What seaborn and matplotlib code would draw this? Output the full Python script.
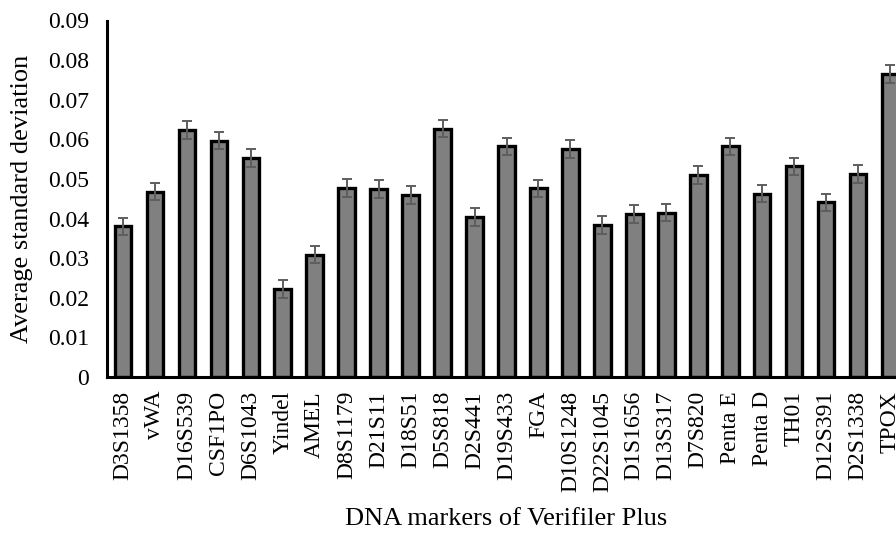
import matplotlib
matplotlib.use("Agg")
import matplotlib.pyplot as plt
import seaborn as sns
import pandas as pd

# Average standard deviation per marker of the Verifiler Plus kit
markers = ["D3S1358", "vWA", "D16S539", "CSF1PO", "D6S1043", "Yindel", "AMEL",
           "D8S1179", "D21S11", "D18S51", "D5S818", "D2S441", "D19S433", "FGA",
           "D10S1248", "D22S1045", "D1S1656", "D13S317", "D7S820", "Penta E",
           "Penta D", "TH01", "D12S391", "D2S1338", "TPOX"]
avg_sd = [0.0380, 0.0468, 0.0624, 0.0597, 0.0553, 0.0222, 0.0309,
          0.0477, 0.0475, 0.0460, 0.0627, 0.0404, 0.0582, 0.0476,
          0.0576, 0.0384, 0.0411, 0.0415, 0.0510, 0.0582,
          0.0463, 0.0532, 0.0441, 0.0512, 0.0765]
sd_err = [0.0022] * len(markers)

y_ticks = [0, 0.01, 0.02, 0.03, 0.04, 0.05, 0.06, 0.07, 0.08, 0.09]
y_tick_labels = ["0", "0.01", "0.02", "0.03", "0.04", "0.05", "0.06", "0.07", "0.08", "0.09"]

df = pd.DataFrame({"marker": markers, "sd": avg_sd, "err": sd_err})

sns.set_theme(style="white")
plt.rcParams["font.family"] = ["Liberation Serif", "DejaVu Serif"]

fig = plt.figure(figsize=(8.96, 5.34), dpi=100)
# the plotting area runs slightly past the right edge of the canvas
ax = fig.add_axes([107 / 896, 157 / 534, 799 / 896, 356.5 / 534])

sns.barplot(data=df, x="marker", y="sd", order=markers, color="#808080",
            saturation=1, width=0.52, edgecolor="black", linewidth=2.4,
            errorbar=None, ax=ax)

ax.errorbar(range(len(markers)), df["sd"], yerr=df["err"], fmt="none",
            ecolor="#5e5e5e", elinewidth=1.4, capsize=3.4, capthick=1.4,
            zorder=5)

ax.set_ylim(0, 0.09)
ax.set_xlim(-0.5, len(markers) - 0.5)
ax.set_yticks(y_ticks)
ax.set_yticklabels(y_tick_labels)

for side in ("top", "right"):
    ax.spines[side].set_visible(False)
for side in ("left", "bottom"):
    ax.spines[side].set_color("black")
    ax.spines[side].set_linewidth(2.2)

ax.tick_params(axis="y", length=0, pad=13, labelsize=17, labelcolor="black")
ax.tick_params(axis="x", length=0, pad=10, labelsize=17, labelcolor="black",
               labelrotation=90)

ax.set_ylabel("Average standard deviation", fontsize=19, color="black")
ax.set_xlabel("DNA markers of Verifiler Plus", fontsize=19, color="black")
ax.yaxis.set_label_coords(-0.093, 0.5)
ax.xaxis.set_label_coords(0.5, -0.368)

fig.savefig("out.png", dpi=100)
